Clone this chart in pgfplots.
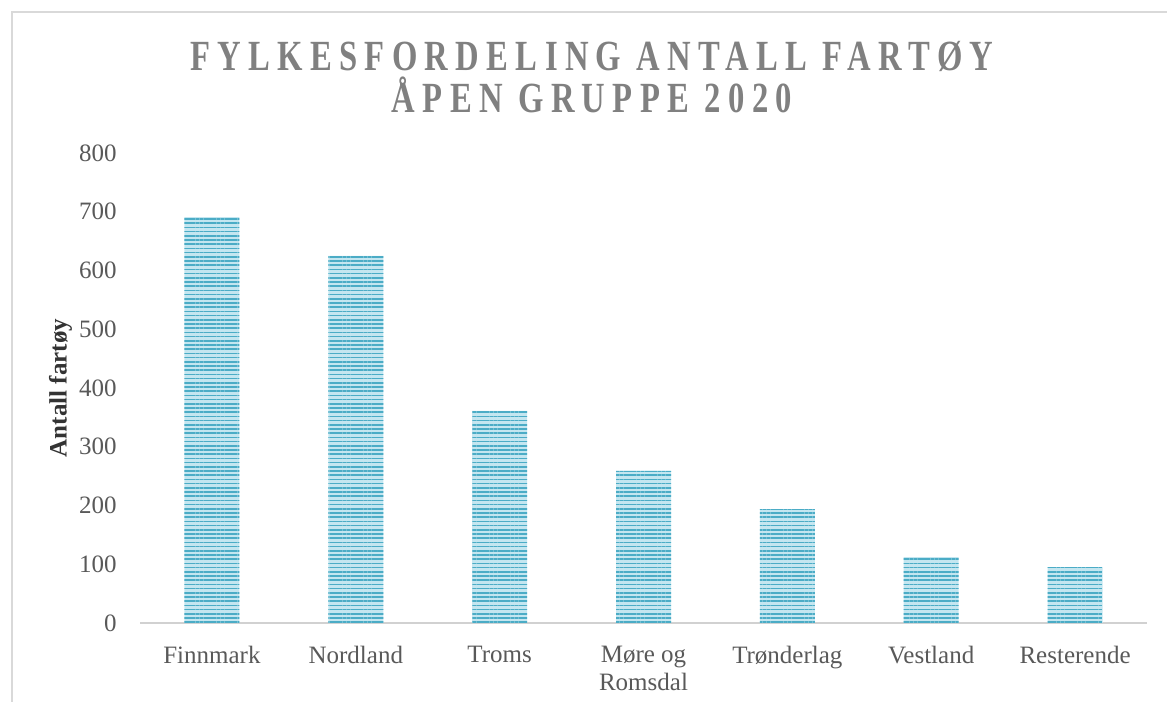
\documentclass[border=0pt]{standalone}
\usepackage{fontspec}
\setmainfont{Liberation Serif}
\newfontfamily\titlefont[FakeStretch=0.76, LetterSpace=17]{Liberation Serif}
\usepackage{pgfplots}
\pgfplotsset{compat=1.18}
\usetikzlibrary{patterns.meta}

\definecolor{barblue}{HTML}{4BACC6}
\definecolor{barlight}{HTML}{C4E6F0}
\definecolor{txtgray}{HTML}{595959}
\definecolor{titlegray}{HTML}{808080}
\definecolor{framegray}{HTML}{D9D9D9}

\begin{document}
\begin{tikzpicture}
% page = 1167 x 702 px, 1 px = 0.5pt, origin at top left
\useasboundingbox (0,0) rectangle (583.5pt,-351pt);
\draw[framegray, line width=0.8pt] (583.5pt,-6pt) -- (6pt,-6pt) -- (6pt,-351pt);

\node[font=\titlefont\bfseries\fontsize{21.5}{21}\selectfont, text=titlegray, align=center]
  at (296pt,-38.5pt) {FYLKESFORDELING ANTALL FARTØY\\ÅPEN GRUPPE 2020};

\begin{axis}[
    at={(70pt,-311.5pt)}, anchor=south west,
    scale only axis,
    width=503.5pt, height=235pt,
    ybar, bar width=27.5pt, bar shift=0pt,
    xmin=-0.5, xmax=6.5,
    ymin=0, ymax=800,
    xtick=data,
    xticklabels={Finnmark, Nordland, Troms, {Møre og\\Romsdal}, Trønderlag, Vestland, Resterende},
    ytick={0,100,...,800},
    axis x line=bottom, axis y line=left,
    x axis line style={draw=framegray!120, line width=1.2pt, -},
    y axis line style={draw=none},
    xtick style={draw=none}, ytick style={draw=none},
    /pgf/number format/assume math mode=true,
    tick label style={font=\fontsize{12.5}{14}\selectfont, text=txtgray},
    yticklabel style={xshift=-6pt},
    xticklabel style={align=center, yshift=-6pt},
    ylabel={Antall fartøy},
    ylabel style={font=\bfseries\fontsize{12.5}{14}\selectfont, text=black!80},
    every axis y label/.append style={at={(axis description cs:-0.079,0.5)}, anchor=center, rotate=0},
    clip=false,
]
\pgfplotstableread{
x  y
0  691
1  625
2  361
3  259
4  194
5  112
6  95
}\fartoy
\addplot[draw=none, fill=barlight] table[x=x, y=y] {\fartoy};
\addplot[draw=none, pattern={Lines[angle=0, distance=2.1pt, line width=0.8pt]}, pattern color=barblue]
  table[x=x, y=y] {\fartoy};
\end{axis}
\end{tikzpicture}
\end{document}
